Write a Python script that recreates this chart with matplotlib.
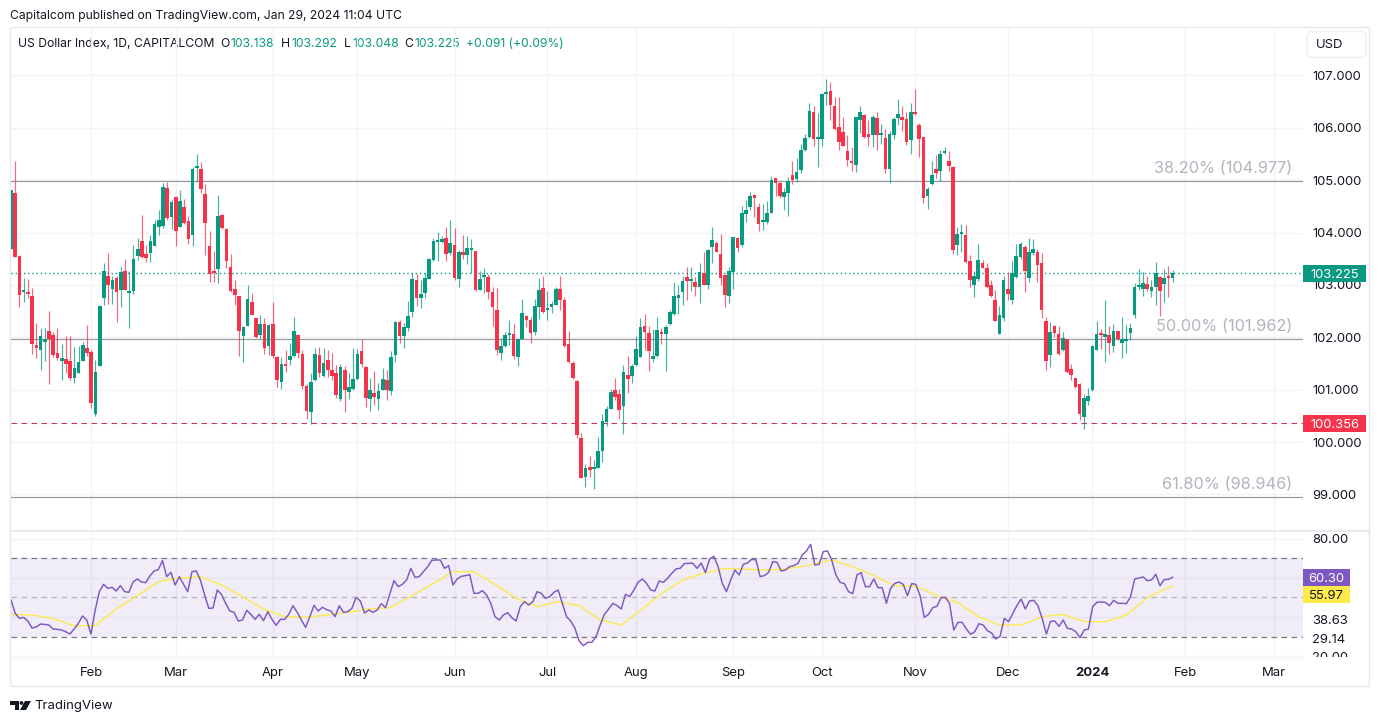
import numpy as np
import matplotlib
matplotlib.use("Agg")
import matplotlib.pyplot as plt
from matplotlib.patches import Rectangle, FancyBboxPatch, Polygon, Circle
from matplotlib.transforms import Bbox, blended_transform_factory

plt.rcParams['font.family'] = ['Inter', 'DejaVu Sans']

# daily candles
opens = [
    103.69,104.75,103.56,102.86,102.87,102.78,101.86,101.76,101.92,102.12,
    102.04,101.70,101.54,101.59,101.55,101.22,101.32,101.55,101.80,101.72,
    100.54,101.45,102.76,103.18,102.93,103.13,102.91,103.27,102.84,102.89,
    103.55,103.84,103.60,103.61,103.74,104.11,104.12,104.85,104.30,104.68,
    104.11,104.49,104.23,103.95,105.24,105.22,104.73,103.74,103.26,103.31,
    104.33,104.06,103.35,102.92,102.78,102.02,102.22,102.68,102.37,102.04,
    102.25,101.83,102.26,101.63,101.14,101.48,101.56,101.64,102.04,101.69,
    101.08,100.58,101.18,101.66,101.27,101.57,101.38,101.31,100.83,101.38,
    100.96,101.02,101.20,101.73,101.43,100.82,100.93,100.82,100.99,101.19,
    100.98,101.67,102.29,102.02,102.18,102.49,103.09,102.76,102.84,103.12,
    103.47,103.82,103.82,103.90,103.61,103.76,103.12,103.62,103.58,103.66,
    103.64,102.91,103.15,103.15,102.87,102.52,101.71,101.83,102.04,102.07,
    101.62,101.97,102.41,102.34,102.11,102.58,102.94,102.52,102.57,102.62,
    102.93,102.71,101.87,101.51,101.17,100.08,99.34,99.53,99.48,99.51,
    99.82,100.39,100.64,100.99,100.91,100.68,101.28,101.27,101.47,101.63,
    102.22,102.08,101.58,101.64,102.10,102.07,102.25,102.44,102.76,102.87,
    103.16,103.07,103.06,102.96,103.23,103.00,103.73,103.81,103.60,103.19,
    102.78,103.25,103.90,103.76,104.36,104.49,104.70,104.49,104.21,104.20,
    104.38,105.05,104.94,104.68,104.75,105.10,105.03,105.19,105.58,105.83,
    106.31,105.79,105.79,106.64,106.70,106.42,106.01,105.92,105.56,105.36,
    105.30,106.15,106.25,105.88,105.86,106.19,105.87,105.81,105.22,105.86,
    106.19,106.20,106.17,105.77,106.31,106.06,105.82,104.70,104.93,105.21,
    105.17,105.52,105.37,105.26,103.76,103.97,103.95,103.46,102.99,103.11,
    103.42,103.33,102.99,102.72,102.07,102.36,102.93,102.72,103.15,103.54,
    103.73,103.13,103.61,103.63,103.41,102.32,101.66,102.22,102.07,101.75,
    101.96,101.39,101.23,101.11,100.48,100.78,100.99,101.76,102.07,102.01,
    102.04,101.83,102.13,101.89,101.93,102.08,102.42,102.96,102.92,103.01,
    102.88,102.96,103.15,103.01,103.17,103.138]
closes = [
    104.82,103.53,102.80,102.89,102.82,101.87,101.80,102.03,101.97,101.96,
    101.66,101.61,101.61,101.50,101.23,101.41,101.52,101.86,101.71,100.75,
    101.34,102.59,103.27,102.99,103.09,102.86,103.25,102.91,102.89,103.50,
    103.68,103.54,103.51,103.84,104.16,104.24,104.88,104.27,104.59,104.03,
    104.60,104.18,103.87,105.22,105.27,104.84,104.19,103.20,103.22,104.32,
    104.08,103.46,102.89,102.80,102.13,102.19,102.73,102.43,102.01,102.26,
    101.80,102.24,101.65,101.18,101.50,101.45,101.65,102.12,101.71,101.08,
    100.59,101.15,101.68,101.31,101.51,101.37,101.27,100.90,101.43,100.99,
    101.05,101.20,101.69,101.50,100.85,100.99,100.87,100.97,101.20,100.99,
    101.63,102.29,102.02,102.20,102.41,103.11,102.76,102.82,103.14,103.50,
    103.84,103.86,103.88,103.60,103.81,103.13,103.62,103.57,103.71,103.71,
    102.90,103.12,103.19,102.86,102.57,101.75,101.84,102.05,102.09,101.65,
    101.97,102.46,102.34,102.08,102.59,102.91,102.48,102.55,102.64,102.93,
    102.71,101.83,101.52,101.22,100.14,99.31,99.50,99.46,99.51,99.83,
    100.40,100.64,100.96,100.86,100.61,101.34,101.21,101.46,101.78,102.20,
    102.11,101.73,101.64,102.14,102.07,102.20,102.49,102.78,102.79,103.08,
    103.08,103.10,102.97,103.25,103.00,103.66,103.85,103.63,103.13,102.81,
    103.26,103.91,103.70,104.38,104.44,104.70,104.67,104.16,104.22,104.38,
    105.00,104.95,104.70,104.77,104.98,105.00,105.15,105.58,105.80,106.33,
    105.78,105.82,106.64,106.69,106.43,105.97,105.73,105.66,105.38,105.32,
    106.20,106.31,105.82,105.82,106.21,105.87,105.89,105.21,105.88,106.17,
    106.26,106.15,105.73,106.31,106.26,105.78,104.66,104.84,105.10,105.14,
    105.51,105.54,105.27,103.67,103.98,103.98,103.44,103.09,103.18,103.47,
    103.33,102.96,102.79,102.32,102.43,103.09,102.83,103.23,103.55,103.79,
    103.27,103.62,103.68,103.39,102.53,101.55,102.11,102.09,101.69,101.99,
    101.34,101.29,101.05,100.53,100.84,100.88,101.84,102.07,102.04,102.06,
    101.89,102.12,101.96,101.96,101.96,102.18,102.96,103.00,103.04,102.92,
    102.97,103.22,102.88,103.13,103.13,103.225]
highs = [
    104.82,105.36,103.58,103.13,103.11,102.95,102.27,102.17,102.18,102.50,
    102.10,102.18,101.87,102.03,102.02,101.82,101.83,101.92,102.24,101.76,
    101.56,102.62,103.42,103.61,103.18,103.18,103.34,103.50,103.26,103.77,
    103.90,104.34,103.77,103.96,104.25,104.43,104.95,104.97,104.62,104.69,
    104.82,104.64,104.32,105.25,105.50,105.34,104.92,104.03,103.64,104.71,
    104.36,104.09,103.60,103.10,102.78,102.21,102.99,102.85,102.37,102.43,
    102.37,102.26,102.67,101.64,101.62,101.75,101.90,102.39,102.07,101.75,
    101.10,101.31,101.80,101.82,101.80,101.75,101.70,101.48,101.50,101.45,
    101.32,101.80,101.78,101.97,101.45,101.23,101.36,101.13,101.41,101.38,
    101.73,102.31,102.34,102.27,102.69,103.23,103.21,103.10,103.23,103.52,
    103.90,104.01,103.93,104.11,104.25,104.09,103.66,103.96,103.94,103.88,
    103.64,103.26,103.32,103.20,102.96,102.94,101.99,102.10,102.34,102.26,
    101.99,102.73,102.43,102.39,102.73,103.13,103.17,102.88,102.69,102.96,
    103.18,102.77,102.13,101.54,101.18,100.18,99.59,99.73,99.65,100.10,
    100.54,100.68,101.01,101.22,101.01,101.48,101.65,101.50,102.02,102.37,
    102.45,102.22,102.15,102.39,102.18,102.23,102.52,103.06,103.00,103.17,
    103.35,103.35,103.16,103.41,103.63,103.68,104.10,103.84,103.98,103.21,
    103.35,103.92,103.91,104.51,104.63,104.78,104.74,104.56,104.54,104.61,
    105.08,105.05,104.97,104.86,105.07,105.37,105.42,105.70,105.88,106.47,
    106.41,106.29,106.66,106.94,106.87,106.59,106.59,106.21,105.86,105.63,
    106.21,106.42,106.27,106.15,106.24,106.31,106.07,105.97,105.94,106.20,
    106.56,106.41,106.31,106.47,106.75,106.10,105.83,104.88,105.37,105.48,
    105.58,105.63,105.56,105.27,104.10,104.17,104.14,103.57,103.27,103.79,
    103.47,103.42,103.09,102.90,102.60,103.18,103.25,103.46,103.79,103.82,
    103.76,103.90,103.87,103.69,103.61,102.39,102.29,102.23,102.21,102.10,
    101.96,101.50,101.23,101.13,100.92,101.04,101.85,102.32,102.15,102.72,
    102.21,102.26,102.13,102.39,102.23,102.28,103.03,103.31,103.25,103.18,
    103.09,103.44,103.17,103.31,103.36,103.292]
lows = [
    103.69,103.53,102.58,102.67,102.75,101.69,101.61,101.37,101.54,101.11,
    101.62,101.57,101.19,101.31,101.18,101.13,101.31,101.54,101.65,100.65,
    100.49,101.45,102.62,102.64,102.64,102.30,102.57,102.91,102.17,102.83,
    103.48,103.52,103.43,103.43,103.74,103.96,104.08,104.25,104.06,103.74,
    104.11,104.17,103.79,103.74,104.97,104.76,103.58,103.05,103.05,103.03,
    104.06,103.32,102.87,102.61,101.64,101.52,102.21,102.42,101.98,101.97,
    101.69,101.66,101.61,101.06,101.01,101.33,101.48,101.62,101.61,101.01,
    100.44,100.34,101.16,101.25,101.24,101.25,101.19,100.84,100.78,100.58,
    100.83,101.00,101.19,101.43,100.67,100.59,100.71,100.61,100.99,100.80,
    100.89,101.52,101.89,101.80,102.13,102.39,102.59,102.56,102.76,103.11,
    103.46,103.45,103.80,103.45,103.58,103.09,102.97,103.50,103.40,103.23,
    102.88,102.90,102.85,102.73,102.22,101.67,101.56,101.82,101.86,101.59,
    101.46,101.96,102.20,101.90,102.05,102.35,102.46,102.34,102.46,102.61,
    102.53,101.82,101.51,101.20,100.08,99.31,99.15,99.34,99.11,99.50,
    99.61,100.30,100.63,100.81,100.44,100.15,100.94,101.12,101.45,101.62,
    101.76,101.35,101.53,101.63,101.88,101.35,102.24,102.43,102.44,102.62,
    102.71,102.89,102.79,102.66,102.99,102.92,103.41,103.63,103.00,102.57,
    102.66,102.92,103.63,103.72,104.21,104.43,104.29,104.03,104.05,104.16,
    104.37,104.70,104.67,104.44,104.32,104.93,104.97,105.14,105.56,105.80,
    105.65,105.26,105.66,106.43,106.15,105.96,105.58,105.65,105.27,105.17,
    105.16,105.91,105.80,105.65,105.64,105.58,105.70,105.14,104.95,105.78,
    106.05,105.94,105.67,105.50,106.24,105.44,104.56,104.46,104.91,105.05,
    104.98,105.51,105.18,103.59,103.57,103.63,103.42,102.97,102.77,103.08,
    103.32,102.95,102.77,102.31,102.07,102.32,102.71,102.64,103.14,103.50,
    102.87,103.06,103.57,103.06,102.36,101.37,101.43,102.01,101.66,101.74,
    101.32,101.18,101.04,100.43,100.25,100.70,100.97,101.75,101.78,101.52,
    101.69,101.72,101.94,101.61,101.71,101.94,102.37,102.90,102.78,102.89,
    102.77,102.62,102.40,102.68,102.77,103.048]

rsi = [
    48.72,41.91,39.36,39.87,38.0,34.43,34.94,36.47,36.3,35.96,33.91,33.74,33.4,32.55,31.36,33.91,36.81,40.55,38.51,31.36,
    43.62,52.98,56.72,54.68,55.19,53.32,56.04,52.98,52.64,57.91,59.45,57.91,57.57,60.98,63.53,64.21,68.81,60.64,62.85,56.38,
    60.64,56.72,52.98,63.19,63.53,58.94,51.28,44.47,44.64,53.83,51.62,47.02,43.11,42.43,38.0,38.51,43.45,41.4,38.85,41.4,
    38.17,42.77,38.85,35.79,38.85,38.85,41.4,45.83,42.43,38.51,34.77,40.21,46.0,43.11,44.98,43.79,43.11,40.21,45.83,42.43,
    42.77,44.47,50.09,48.21,42.09,43.62,42.43,43.62,46.85,44.81,51.62,58.6,55.53,56.72,58.94,64.89,60.3,60.64,63.19,65.74,
    68.98,69.15,69.15,64.89,66.26,56.38,59.45,60.81,61.15,61.66,52.13,52.13,53.49,51.28,47.02,40.21,38.51,41.06,42.26,39.7,
    38.0,45.32,47.87,46.17,47.87,52.98,52.13,49.57,50.43,52.64,53.83,47.02,40.21,38.0,34.26,27.79,25.4,27.11,27.11,30.0,
    35.96,41.4,44.13,47.02,45.83,44.13,51.62,50.43,53.83,57.74,59.45,57.23,53.83,53.32,58.43,57.74,59.79,62.34,64.55,64.89,
    67.28,67.45,67.45,64.89,67.62,62.68,69.66,71.02,65.74,57.23,52.98,58.94,64.04,61.49,66.94,67.62,69.49,69.15,60.64,61.15,
    62.85,68.3,67.96,63.53,64.04,65.74,66.26,67.45,71.7,73.74,77.15,66.6,66.94,73.4,73.74,69.15,61.49,57.74,57.06,52.98,
    51.96,61.49,62.68,55.53,55.53,59.45,55.02,55.02,47.02,54.68,57.23,57.91,56.72,50.94,57.06,56.72,50.94,39.87,41.4,44.81,
    45.49,49.91,50.09,47.02,33.4,37.32,37.32,33.91,31.19,32.55,36.64,35.96,33.06,31.87,28.81,30.17,39.36,37.66,41.74,45.83,
    49.23,44.13,48.21,48.55,45.83,39.36,31.36,37.83,38.0,35.28,38.51,34.26,33.91,32.55,29.49,33.4,33.91,45.32,47.53,47.7,
    47.53,45.83,48.55,47.02,47.02,46.85,50.26,59.45,59.96,60.47,58.6,58.94,61.83,56.04,59.11,59.28,60.3]
# moving average of the RSI, read at every fifth point
rsi_ma = [
    41.4,41.06,39.36,35.62,35.62,44.13,50.94,58.09,59.96,60.64,56.38,50.43,44.13,40.21,39.87,41.06,42.43,44.13,44.81,50.6,56.72,
    63.19,63.19,56.72,49.57,45.32,47.87,45.83,38.51,35.96,44.13,52.64,59.28,62.68,64.89,64.38,63.87,64.89,66.6,69.15,65.74,61.15,
    56.04,55.7,51.11,47.36,40.04,35.96,35.96,40.21,41.4,37.66,37.66,41.06,49.91,55.02,55.97]

price_ticks = [99, 100, 101, 102, 103, 104, 105, 106, 107]
fib_levels = [104.977, 101.962, 98.946]
fib_labels = ['38.20% (104.977)', '50.00% (101.962)', '61.80% (98.946)']
last_price = 103.225
low_level = 100.356
rsi_bands = [70, 50, 30]
rsi_grid = [80, 60, 40, 20]
rsi_ticks = [80, 38.63, 29.14, 20]
rsi_last = 60.30
ma_last = 55.97

month_pos = [19, 39, 62, 82, 105, 127, 148, 171, 192, 214, 236, 256, 278, 299]
month_labels = ['Feb', 'Mar', 'Apr', 'May', 'Jun', 'Jul', 'Aug', 'Sep', 'Oct', 'Nov', 'Dec', '2024', 'Feb', 'Mar']

GREEN = '#089981'
RED = '#f7334b'
PURPLE = '#7e57c2'
YELLOW = '#fdeb4a'
DARK = '#131722'
GRID = '#f2f3f7'
BORDER = '#e6e8ef'
FS = 9.4

W, H = 1380, 723
fig = plt.figure(figsize=(W / 100, H / 100), dpi=100, facecolor='white')
ax = fig.add_axes([11 / W, 1 - 530 / H, 1292 / W, 503 / H], facecolor='none')
ax2 = fig.add_axes([11 / W, 1 - 657 / H, 1292 / W, 126 / H], facecolor='none')
# overlay in pixels for header, frame and logo
ov = fig.add_axes([0, 0, 1, 1], zorder=-1)
ov.set_xlim(0, W)
ov.set_ylim(H, 0)
ov.axis('off')

x = np.arange(len(opens))
xmax = 1292 / 4.224
o, c = np.array(opens), np.array(closes)
colors = np.where(c >= o, GREEN, RED)

# candles
ax.vlines(x, lows, highs, colors=colors, lw=0.85, alpha=0.75, zorder=3)
ax.bar(x, np.maximum(np.abs(c - o), 0.04), bottom=np.minimum(o, c), width=0.86, color=colors, lw=0, zorder=4)

ax.set_xlim(0, xmax)
ax.set_ylim(98.321, 107.926)
ax.set_xticks(month_pos, [''] * len(month_pos))
ax.set_yticks(price_ticks, ['%.3f' % p for p in price_ticks])
ax.yaxis.tick_right()
ax.tick_params(axis='both', length=0, labelsize=FS, labelcolor=DARK, pad=6.5)
ax.grid(color=GRID, lw=1)
ax.set_axisbelow(True)
for s in ax.spines.values():
    s.set_visible(False)

for lev, lab in zip(fib_levels, fib_labels):
    ax.axhline(lev, color='#9598a1', lw=0.85, zorder=2)
    ax.text(1281.5 / 1292, lev + 13 / 52.37, lab, transform=blended_transform_factory(ax.transAxes, ax.transData),
            ha='right', va='center', fontsize=11.75, color='#b2b5be')
ax.axhline(last_price, color=GREEN, lw=1, ls=(0, (1, 2)), zorder=2)
ax.axhline(low_level, color='#c8364f', lw=0.8, ls=(0, (5, 4)), zorder=2)


def price_tag(axis, value, text, color, txt, width, unit, shift=0):
    # coloured label on the right of the pane, shift in pixels when labels would collide
    tr = blended_transform_factory(axis.transAxes, axis.transData)
    mid = value - shift / unit
    axis.add_patch(Rectangle((1, mid - 8.5 / unit), width / 1292, 17 / unit, transform=tr, facecolor=color,
                             edgecolor='none', clip_on=False, zorder=6))
    axis.text(1 + (width / 2) / 1292, mid, text, transform=tr, ha='center', va='center_baseline', fontsize=FS,
              color=txt, zorder=7, clip_on=False)


price_tag(ax, last_price, '103.225', GREEN, 'white', 63, 52.37)
price_tag(ax, low_level, '100.356', RED, 'white', 63, 52.37)

# RSI pane
rsi_x = np.linspace(0, len(opens) - 1, len(rsi))
ma_x = np.r_[rsi_x[::5], rsi_x[-1]]
ax2.axhspan(rsi_bands[2], rsi_bands[0], color=PURPLE, alpha=0.11, lw=0, zorder=1)
for lev in rsi_grid:
    ax2.axhline(lev, color=GRID, lw=1, zorder=1)
ax2.axhline(60, color='#e6e2f2', lw=1, zorder=1)
ax2.axhline(40, color='#e6e2f2', lw=1, zorder=1)
ax2.axhline(rsi_bands[0], color='#787b86', lw=0.9, ls=(0, (4.5, 3.5)), zorder=2)
ax2.axhline(rsi_bands[1], color='#787b86', lw=0.9, ls=(0, (4.5, 3.5)), alpha=0.5, zorder=2)
ax2.axhline(rsi_bands[2], color='#787b86', lw=0.9, ls=(0, (4.5, 3.5)), zorder=2)
r = np.array(rsi)
ax2.fill_between(rsi_x, r, 30, where=r < 30, color=RED, alpha=0.08, lw=0, zorder=1)
ax2.plot(ma_x, rsi_ma, color=YELLOW, lw=1.0, zorder=3)
ax2.plot(rsi_x, rsi, color=PURPLE, lw=1.05, zorder=4)
ax2.set_xlim(0, xmax)
ax2.set_ylim(19.64, 83.93)
ax2.set_xticks(month_pos, month_labels)
ax2.set_yticks(rsi_ticks, ['%.2f' % t for t in rsi_ticks])
ax2.yaxis.tick_right()
ax2.tick_params(axis='y', length=0, labelsize=FS, labelcolor=DARK, pad=6.5)
ax2.tick_params(axis='x', length=0, labelsize=FS, labelcolor=DARK, pad=7)
ax2.grid(axis='x', color=GRID, lw=1)
ax2.set_axisbelow(True)
for s in ax2.spines.values():
    s.set_visible(False)
ax2.get_xticklabels()[11].set_fontweight('bold')
# the 20.00 label is cut by the pane edge
lab20 = ax2.get_yticklabels()[3]
lab20.set_clip_on(True)
lab20.set_clip_box(Bbox.from_extents(0, H - 657, W, H))

price_tag(ax2, rsi_last, '60.30', PURPLE, 'white', 47, 1.96)
price_tag(ax2, ma_last, '55.97', YELLOW, DARK, 47, 1.96, shift=8.4)

# frame, pane separator, currency button
ov.add_patch(FancyBboxPatch((10.5, 27.5), 1359, 659, boxstyle='round,pad=0,rounding_size=2', facecolor='white',
                            edgecolor=BORDER, lw=1, zorder=1))
ov.plot([11, 1370], [530.5, 530.5], color='#e8eaf0', lw=1.4, zorder=2)
ov.plot([11, 1303], [657.5, 657.5], color=GRID, lw=0.8, zorder=2)
ax.add_patch(FancyBboxPatch((1307, 31.5), 59, 26, boxstyle='round,pad=0,rounding_size=5',
                            transform=ov.transData, facecolor='white', edgecolor='#eceef3', lw=1, clip_on=False, zorder=6))
ax.text(1316, 44.5, 'USD', transform=ov.transData, ha='left', va='center', fontsize=FS, color=DARK, zorder=7, clip_on=False)

# header text
ov.text(10, 16, 'Capitalcom published on TradingView.com, Jan 29, 2024 11:04 UTC', fontsize=8.75, color=DARK, va='center', zorder=3)
ov.text(18, 44, 'US Dollar Index, 1D, CAPITALCOM', fontsize=8.75, color=DARK, va='center', zorder=3)
legend_parts = [(220, 'O', DARK), (230, '103.138', GREEN), (281, 'H', DARK), (291, '103.292', GREEN),
                (344, 'L', DARK), (352, '103.048', GREEN), (404, 'C', DARK), (414, '103.225', GREEN),
                (466, '+0.091 (+0.09%)', GREEN)]
for px, txt, col in legend_parts:
    ov.text(px, 44, txt, fontsize=8.75, color=col, va='center', zorder=3)

# TradingView logo
ov.add_patch(Polygon([(10, 701), (19, 701), (19, 710), (15, 710), (15, 705), (10, 705)], facecolor=DARK, lw=0))
ov.add_patch(Circle((21.5, 703), 1.9, facecolor=DARK, lw=0))
ov.add_patch(Polygon([(25, 701), (31, 701), (26, 710), (20, 710)], facecolor=DARK, lw=0))
ov.text(34, 705.5, 'TradingView', fontsize=9.5, color=DARK, va='center')

fig.savefig('out.png', dpi=100, facecolor='white')
